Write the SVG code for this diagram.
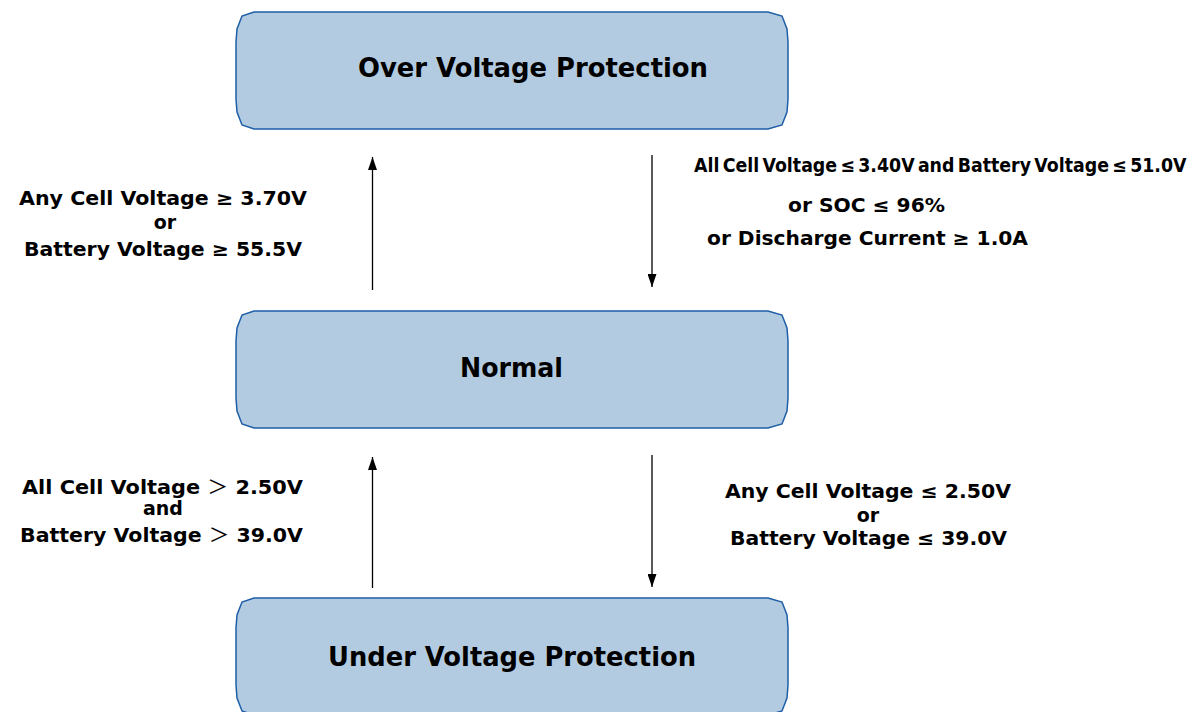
<svg xmlns="http://www.w3.org/2000/svg" width="1192" height="712" viewBox="0 0 1192 712">
<defs>
<style>
.box{fill:#b3cbe1;stroke:#1d5ea6;stroke-width:1.5}
.t{font-family:"DejaVu Sans","Liberation Sans",sans-serif;font-weight:bold;fill:#000}
.title{font-size:26px}
.lbl{font-size:19px}
.gt{font-family:"Noto Sans CJK SC","DejaVu Sans",sans-serif;font-weight:normal}
.conn{stroke:#000;stroke-width:1.3;fill:none}
</style>
<marker id="ah" markerUnits="userSpaceOnUse" markerWidth="13" markerHeight="9" refX="13" refY="4.5" orient="auto" viewBox="0 0 13 9">
<path d="M0,0 L13,4.5 L0,9 Z" fill="#000"/>
</marker>
<path id="boxshape" d="M254,0 H768 L782,4 L787,17 L788,30 V87 L787,100 L782,113 L768,117 H254 L242,113 L237,100 L236,87 V30 L237,17 L242,4 Z"/>
</defs>
<g id="connectors">
<line class="conn" x1="372.5" y1="290" x2="372.5" y2="157" marker-end="url(#ah)"/>
<line class="conn" x1="652" y1="155" x2="652" y2="287" marker-end="url(#ah)"/>
<line class="conn" x1="372.5" y1="588" x2="372.5" y2="457" marker-end="url(#ah)"/>
<line class="conn" x1="652" y1="455" x2="652" y2="587" marker-end="url(#ah)"/>
</g>
<g id="over-voltage">
<use href="#boxshape" class="box" transform="translate(0,12)"/>
<text class="t title" x="358" y="77" textLength="350" lengthAdjust="spacingAndGlyphs">Over Voltage Protection</text>
</g>
<g id="normal">
<use href="#boxshape" class="box" transform="translate(0,311)"/>
<text class="t title" x="460" y="377" textLength="103" lengthAdjust="spacingAndGlyphs">Normal</text>
</g>
<g id="under-voltage">
<use href="#boxshape" class="box" transform="translate(0,598)"/>
<text class="t title" x="328" y="666" textLength="368" lengthAdjust="spacingAndGlyphs">Under Voltage Protection</text>
</g>
<g id="label-ovp-enter">
<text class="t lbl" x="19" y="205" textLength="288" lengthAdjust="spacingAndGlyphs">Any Cell Voltage ≥ 3.70V</text>
<text class="t lbl" x="165" y="229" text-anchor="middle">or</text>
<text class="t lbl" x="24" y="256" textLength="278" lengthAdjust="spacingAndGlyphs">Battery Voltage ≥ 55.5V</text>
</g>
<g id="label-ovp-exit">
<text class="t" font-size="19" transform="translate(694,172) scale(0.915,1)" x="0" y="0" word-spacing="-3">All Cell Voltage ≤ 3.40V and Battery Voltage ≤ 51.0V</text>
<text class="t lbl" x="788" y="212" textLength="157" lengthAdjust="spacingAndGlyphs">or SOC ≤ 96%</text>
<text class="t lbl" x="707" y="245" textLength="321" lengthAdjust="spacingAndGlyphs">or Discharge Current ≥ 1.0A</text>
</g>
<g id="label-uvp-exit">
<text class="t lbl" x="22" y="494" textLength="281" lengthAdjust="spacingAndGlyphs">All Cell Voltage <tspan class="gt">＞</tspan> 2.50V</text>
<text class="t lbl" x="163" y="515" text-anchor="middle">and</text>
<text class="t lbl" x="20" y="542" textLength="283" lengthAdjust="spacingAndGlyphs">Battery Voltage <tspan class="gt">＞</tspan> 39.0V</text>
</g>
<g id="label-uvp-enter">
<text class="t lbl" x="725" y="498" textLength="286" lengthAdjust="spacingAndGlyphs">Any Cell Voltage ≤ 2.50V</text>
<text class="t lbl" x="868" y="522" text-anchor="middle">or</text>
<text class="t lbl" x="730" y="545" textLength="277" lengthAdjust="spacingAndGlyphs">Battery Voltage ≤ 39.0V</text>
</g>
</svg>
